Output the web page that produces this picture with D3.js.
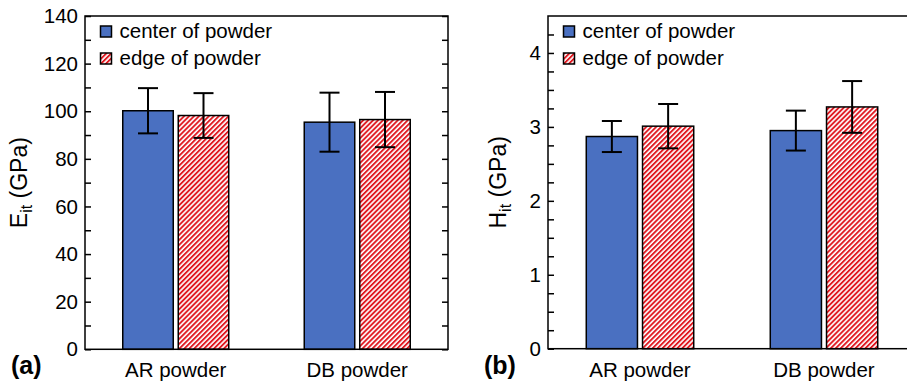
<!DOCTYPE html>
<html>
<head>
<meta charset="utf-8">
<script src="https://cdn.jsdelivr.net/npm/d3@7"></script>
<style>
  html, body { margin: 0; padding: 0; background: #fff; }
  svg { display: block; }
  text { font-family: "Liberation Sans", Arial, sans-serif; fill: #000; }
</style>
</head>
<body>
<svg id="chart" width="907" height="385"></svg>
<script>
// Powder categories and measurement locations
const categories = ["AR powder", "DB powder"];
const locations = ["center of powder", "edge of powder"];

// Indentation modulus E_it (GPa): means and error half-widths
const modulusCenter = [100.2, 95.4];
const modulusCenterErr = [9.5, 12.4];
const modulusEdge = [98.2, 96.5];
const modulusEdgeErr = [9.4, 11.6];

// Indentation hardness H_it (GPa): means and error half-widths
const hardnessCenter = [2.87, 2.95];
const hardnessCenterErr = [0.21, 0.27];
const hardnessEdge = [3.01, 3.27];
const hardnessEdgeErr = [0.30, 0.35];

// Axis ticks
const modulusMajorTicks = [0, 20, 40, 60, 80, 100, 120, 140];
const modulusMinorTicks = [10, 30, 50, 70, 90, 110, 130];
const hardnessMajorTicks = [0, 1, 2, 3, 4];
const hardnessMinorTicks = [0.25, 0.5, 0.75, 1.25, 1.5, 1.75, 2.25, 2.5, 2.75, 3.25, 3.5, 3.75, 4.25];

const BLUE = "#4a70c1";
const RED = "#e01a22";
const FONT = 20.5;

const svg = d3.select("#chart");
svg.append("rect").attr("width", 907).attr("height", 385).attr("fill", "#fff");

// Diagonal red hatch for the "edge" series
const defs = svg.append("defs");
const P = 3.5;
const pat = defs.append("pattern")
  .attr("id", "hatch")
  .attr("patternUnits", "userSpaceOnUse")
  .attr("width", P).attr("height", P)
  .attr("patternTransform", "rotate(45)");
pat.append("rect").attr("width", P).attr("height", P).attr("fill", "#fff");
pat.append("rect").attr("width", 1.9).attr("height", P).attr("fill", RED);

function drawPanel(cfg) {
  const { left, top, width, height, yMax, major, minor, series, symbol, tag, tagX, labelX } = cfg;
  const g = svg.append("g").attr("transform", `translate(${left},${top})`);

  const y = d3.scaleLinear().domain([0, yMax]).range([height, 0]);
  const x0 = d3.scaleBand().domain(categories).range([0, width])
    .paddingInner(0.416).paddingOuter(0.208);
  const x1 = d3.scaleBand().domain(locations).range([0, x0.bandwidth()])
    .paddingInner(0.09);

  // Bars
  series.forEach((s, si) => {
    const loc = locations[si];
    g.selectAll(null).data(categories).enter().append("rect")
      .attr("x", c => x0(c) + x1(loc))
      .attr("y", (c, i) => y(s.values[i]))
      .attr("width", x1.bandwidth())
      .attr("height", (c, i) => y(0) - y(s.values[i]))
      .attr("fill", s.fill)
      .attr("stroke", "#000")
      .attr("stroke-width", 1.5);
  });

  // Error bars
  series.forEach((s, si) => {
    const loc = locations[si];
    categories.forEach((c, i) => {
      const cx = x0(c) + x1(loc) + x1.bandwidth() / 2;
      const hi = y(s.values[i] + s.errors[i]);
      const lo = y(s.values[i] - s.errors[i]);
      const eb = g.append("g").attr("stroke", "#000").attr("stroke-width", 2);
      eb.append("line").attr("x1", cx).attr("x2", cx).attr("y1", hi).attr("y2", lo);
      eb.append("line").attr("x1", cx - 10).attr("x2", cx + 10).attr("y1", hi).attr("y2", hi);
      eb.append("line").attr("x1", cx - 10).attr("x2", cx + 10).attr("y1", lo).attr("y2", lo);
    });
  });

  // Inward ticks on left and right sides
  const styleAxis = sel => {
    sel.select(".domain").remove();
    sel.selectAll(".tick line").attr("stroke", "#000").attr("stroke-width", 1.5);
    sel.selectAll(".tick text").attr("font-size", FONT)
      .style("font-family", '"Liberation Sans", Arial, sans-serif');
  };
  g.append("g").call(d3.axisLeft(y).tickValues(minor).tickSize(-6).tickFormat("")).call(styleAxis);
  g.append("g").call(d3.axisLeft(y).tickValues(major).tickSize(-6).tickPadding(7).tickFormat(d3.format("d"))).call(styleAxis);
  g.append("g").attr("transform", `translate(${width},0)`)
    .call(d3.axisRight(y).tickValues(minor.concat(major)).tickSize(-6).tickFormat("")).call(styleAxis);

  // Frame
  g.append("rect").attr("width", width).attr("height", height)
    .attr("fill", "none").attr("stroke", "#000").attr("stroke-width", 1.5);

  // Category labels
  g.selectAll(null).data(categories).enter().append("text")
    .attr("x", c => x0(c) + x0.bandwidth() / 2)
    .attr("y", height + 28)
    .attr("text-anchor", "middle")
    .attr("font-size", FONT)
    .text(c => c);

  // Legend
  const lg = g.append("g").attr("transform", "translate(15.5,10)");
  series.forEach((s, si) => {
    const row = lg.append("g").attr("transform", `translate(0,${si * 27})`);
    row.append("rect").attr("width", 11).attr("height", 11)
      .attr("fill", s.fill).attr("stroke", "#000").attr("stroke-width", 1.5);
    row.append("text").attr("x", 19).attr("y", 11.5).attr("font-size", FONT).text(locations[si]);
  });

  // Y-axis title with subscript
  const t = svg.append("text")
    .attr("transform", `translate(${labelX},${top + height / 2}) rotate(-90)`)
    .attr("text-anchor", "middle")
    .attr("font-size", 23);
  t.append("tspan").text(symbol);
  t.append("tspan").attr("font-size", 16).attr("dy", 5).text("it");
  t.append("tspan").attr("dy", -5).text(" (GPa)");

  // Panel tag
  svg.append("text").attr("x", tagX).attr("y", 374)
    .attr("font-size", 25).attr("font-weight", "bold").text(tag);
}

drawPanel({
  left: 85, top: 16, width: 363, height: 333.3, yMax: 140,
  major: modulusMajorTicks, minor: modulusMinorTicks,
  series: [
    { values: modulusCenter, errors: modulusCenterErr, fill: BLUE },
    { values: modulusEdge, errors: modulusEdgeErr, fill: "url(#hatch)" }
  ],
  symbol: "E", tag: "(a)", tagX: 11, labelX: 27
});

drawPanel({
  left: 548, top: 16, width: 368, height: 332.7, yMax: 4.5,
  major: hardnessMajorTicks, minor: hardnessMinorTicks,
  series: [
    { values: hardnessCenter, errors: hardnessCenterErr, fill: BLUE },
    { values: hardnessEdge, errors: hardnessEdgeErr, fill: "url(#hatch)" }
  ],
  symbol: "H", tag: "(b)", tagX: 484, labelX: 506
});
</script>
</body>
</html>
